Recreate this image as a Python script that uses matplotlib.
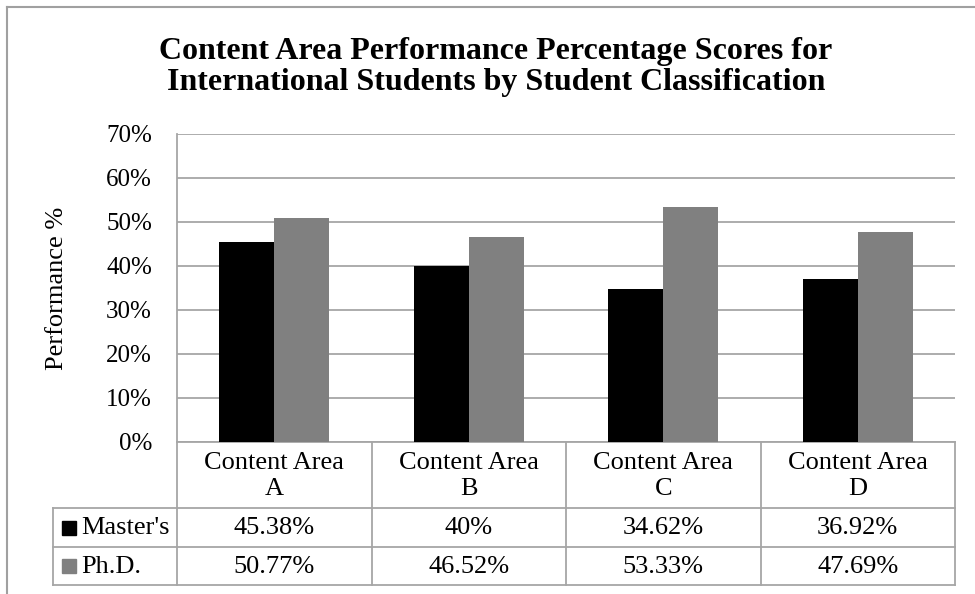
import matplotlib
matplotlib.use("Agg")
import matplotlib.pyplot as plt
from matplotlib.lines import Line2D
from matplotlib.patches import Rectangle

categories = ["Content Area\nA", "Content Area\nB", "Content Area\nC", "Content Area\nD"]
series_names = ["Master's", "Ph.D."]
masters = [45.38, 40.0, 34.62, 36.92]
phd = [50.77, 46.52, 53.33, 47.69]
masters_labels = ["45.38%", "40%", "34.62%", "36.92%"]
phd_labels = ["50.77%", "46.52%", "53.33%", "47.69%"]
yticks = [0, 10, 20, 30, 40, 50, 60, 70]
title = "Content Area Performance Percentage Scores for\nInternational Students by Student Classification"
ylabel = "Performance %"

colors = ["#000000", "#808080"]
grid_c = "#a6a6a6"
FONT = ["Liberation Serif", "DejaVu Serif"]
plt.rcParams["font.family"] = FONT
FS = 19

W, H = 975, 594
fig = plt.figure(figsize=(W / 100, H / 100), dpi=100)

# plot area in pixels
x0, x1 = 177, 955
y_top, y_bot = 133.7, 441.7
ax = fig.add_axes([x0 / W, (H - y_bot) / H, (x1 - x0) / W, (y_bot - y_top) / H])

n = len(categories)
xs = list(range(n))
bw = 0.282
ax.bar([x - bw / 2 for x in xs], masters, width=bw, color=colors[0], zorder=3)
ax.bar([x + bw / 2 for x in xs], phd, width=bw, color=colors[1], zorder=3)

ax.set_xlim(-0.5, n - 0.5)
ax.set_ylim(0, 70)
ax.set_yticks(yticks)
ax.set_yticklabels([f"{v}%" for v in yticks], fontsize=18)
ax.set_xticks([])
ax.tick_params(axis="y", length=0, pad=18)
ax.yaxis.grid(True, color=grid_c, linewidth=1.3, zorder=0)
for s in ["top", "right", "bottom"]:
    ax.spines[s].set_visible(False)
ax.spines["left"].set_color(grid_c)
ax.spines["left"].set_linewidth(1.3)

fig.text(57 / W, 1 - 288 / H, ylabel, rotation=90, ha="center", va="center", fontsize=FS)

fig.text(496 / W, 1 - 67 / H, title, ha="center", va="center", fontsize=23,
         fontweight="bold", linespacing=1.12)

# data table below the axis
tr = ax.get_xaxis_transform()
px = (y_bot - y_top)  # axes height in px
def ay(ypix):
    return (y_bot - ypix) / px

r0, r1, r2, r3 = y_bot, 508, 547, 585
left_x = -0.5 - (x0 - 53) / ((x1 - x0) / n)
lw = 1.3
def hline(xa, xb, yp):
    ax.add_line(Line2D([xa, xb], [ay(yp), ay(yp)], transform=tr, color=grid_c, lw=lw, clip_on=False))
def vline(xv, ya, yb):
    ax.add_line(Line2D([xv, xv], [ay(ya), ay(yb)], transform=tr, color=grid_c, lw=lw, clip_on=False))

hline(-0.5, n - 0.5, r0)
for yp in (r1, r2, r3):
    hline(left_x, n - 0.5, yp)
for k in range(n + 1):
    vline(-0.5 + k, r0, r3)
vline(left_x, r1, r3)

for i, cat in enumerate(categories):
    ax.text(i, ay((r0 + r1) / 2 + 1), cat, transform=tr, ha="center", va="center",
            fontsize=FS, linespacing=1.2)
    ax.text(i, ay((r1 + r2) / 2 + 1), masters_labels[i], transform=tr, ha="center",
            va="center", fontsize=FS)
    ax.text(i, ay((r2 + r3) / 2 + 1), phd_labels[i], transform=tr, ha="center",
            va="center", fontsize=FS)

# legend keys in the first column
for name, c, (ya, yb) in zip(series_names, colors, [(r1, r2), (r2, r3)]):
    yc = (ya + yb) / 2
    fig.patches.append(Rectangle((62 / W, 1 - (yc + 7) / H), 14 / W, 14 / H,
                                 transform=fig.transFigure, color=c))
    fig.text(81 / W, 1 - (yc + 1) / H, name, ha="left", va="center", fontsize=FS)

# outer chart frame (top and left edges visible)
fig.add_artist(Line2D([7 / W, 1], [1 - 7 / H, 1 - 7 / H], transform=fig.transFigure,
                      color="#a0a0a0", lw=1.5))
fig.add_artist(Line2D([7 / W, 7 / W], [0, 1 - 7 / H], transform=fig.transFigure,
                      color="#a0a0a0", lw=1.5))

fig.savefig("out.png", dpi=100)
